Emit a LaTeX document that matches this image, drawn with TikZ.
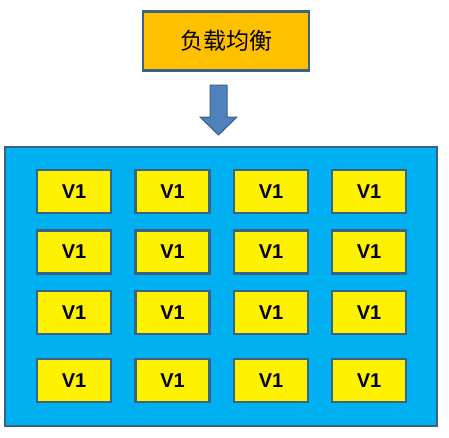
\documentclass[tikz,border=0pt]{standalone}
\usepackage{fontspec}
\setmainfont{Liberation Sans}
\newfontfamily\cjk{Noto Sans CJK SC}
\usetikzlibrary{shapes.arrows}
\definecolor{edge}{HTML}{3A6188}
\definecolor{orangefill}{HTML}{FFC000}
\definecolor{skyfill}{HTML}{00B0F0}
\definecolor{arrowfill}{HTML}{4F81BD}
\begin{document}
\begin{tikzpicture}[x=1pt,y=-1pt,
  vbox/.style={draw=edge,line width=2.5pt,fill=yellow,minimum width=74pt,minimum height=43pt,inner sep=0pt,font=\fontsize{20}{22}\selectfont\bfseries},
  topbox/.style={draw=edge,line width=2.5pt,fill=orangefill,minimum width=166pt,minimum height=59pt,inner sep=0pt,font=\cjk\fontsize{23}{25}\selectfont},
  outer/.style={draw=edge,line width=2.5pt,fill=skyfill}]
\useasboundingbox (0,0) rectangle (449,437);
\node[topbox] (lb) at (226,41) {负载均衡};
\filldraw[draw=edge,line width=1pt,fill=arrowfill] (210,85) -- (227,85) -- (227,117) -- (237,117) -- (218.5,135) -- (200,117) -- (210,117) -- cycle;
\draw[outer] (5,147) rectangle (437,426);
\foreach \c/\x in {1/74,2/172.5,3/271,4/369}{
  \foreach \r/\y in {1/191.5,2/252,3/312.5,4/380.5}{
    \node[vbox] (v\r\c) at (\x,\y) {V1};
  }
}
\end{tikzpicture}
\end{document}
